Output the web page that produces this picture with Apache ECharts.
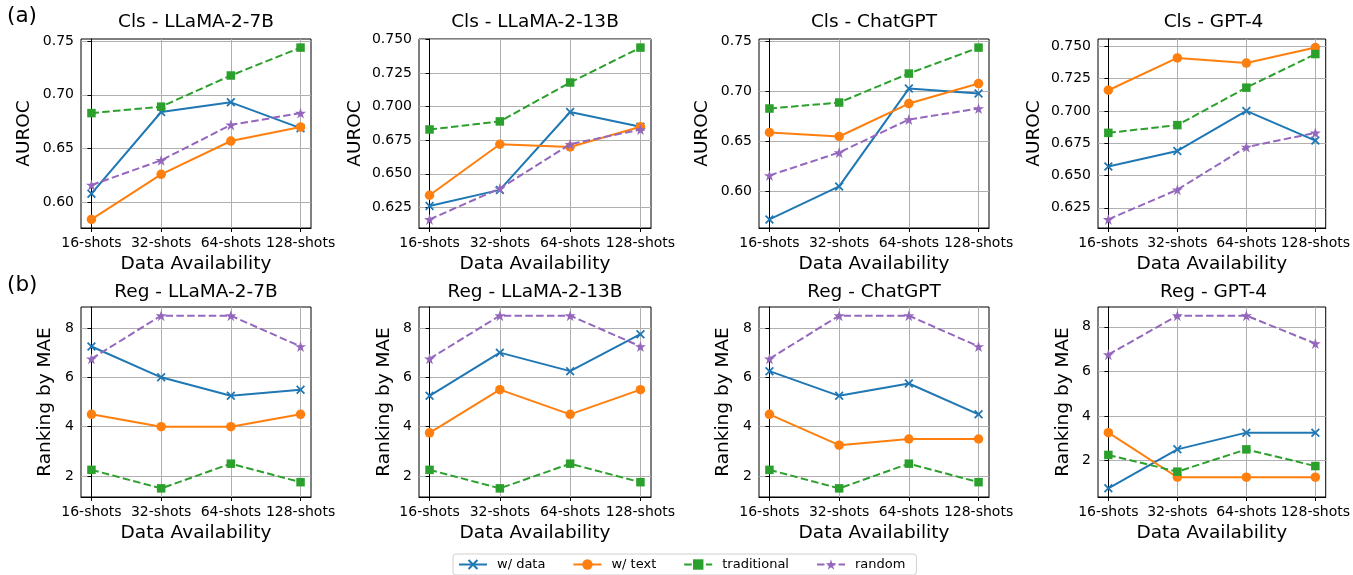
<!DOCTYPE html>
<html><head><meta charset="utf-8">
<script src="https://cdn.jsdelivr.net/npm/echarts@6/dist/echarts.min.js"></script>
<style>html,body{margin:0;padding:0;background:#fff}#c{width:1353px;height:575px}</style>
</head><body><div id="c"></div>
<script>
// ---------------- data ----------------
const categories = ['16-shots', '32-shots', '64-shots', '128-shots'];
const seriesNames = ['w/ data', 'w/ text', 'traditional', 'random'];

const cls_traditional = [0.683, 0.689, 0.718, 0.744];
const cls_random = [0.616, 0.639, 0.672, 0.683];
const cls_llama7b_data = [0.608, 0.684, 0.693, 0.669];
const cls_llama7b_text = [0.584, 0.626, 0.657, 0.670];
const cls_llama13b_data = [0.626, 0.638, 0.696, 0.685];
const cls_llama13b_text = [0.634, 0.672, 0.670, 0.685];
const cls_chatgpt_data = [0.572, 0.605, 0.703, 0.698];
const cls_chatgpt_text = [0.659, 0.655, 0.688, 0.708];
const cls_gpt4_data = [0.657, 0.669, 0.700, 0.677];
const cls_gpt4_text = [0.716, 0.741, 0.737, 0.749];

const reg_traditional = [2.25, 1.5, 2.5, 1.75];
const reg_random = [6.75, 8.5, 8.5, 7.25];
const reg_llama7b_data = [7.25, 6.0, 5.25, 5.5];
const reg_llama7b_text = [4.5, 4.0, 4.0, 4.5];
const reg_llama13b_data = [5.25, 7.0, 6.25, 7.75];
const reg_llama13b_text = [3.75, 5.5, 4.5, 5.5];
const reg_chatgpt_data = [6.25, 5.25, 5.75, 4.5];
const reg_chatgpt_text = [4.5, 3.25, 3.5, 3.5];
const reg_gpt4_data = [0.75, 2.5, 3.25, 3.25];
const reg_gpt4_text = [3.25, 1.25, 1.25, 1.25];

const clsTicksA = [0.60, 0.65, 0.70, 0.75];
const clsTicksB = [0.625, 0.650, 0.675, 0.700, 0.725, 0.750];
const regTicks = [2, 4, 6, 8];

const panels = [
  {title: 'Cls - LLaMA-2-7B', yname: 'AUROC', s: [cls_llama7b_data, cls_llama7b_text, cls_traditional, cls_random], ticks: clsTicksA, dec: 2},
  {title: 'Cls - LLaMA-2-13B', yname: 'AUROC', s: [cls_llama13b_data, cls_llama13b_text, cls_traditional, cls_random], ticks: clsTicksB, dec: 3},
  {title: 'Cls - ChatGPT', yname: 'AUROC', s: [cls_chatgpt_data, cls_chatgpt_text, cls_traditional, cls_random], ticks: clsTicksA, dec: 2},
  {title: 'Cls - GPT-4', yname: 'AUROC', s: [cls_gpt4_data, cls_gpt4_text, cls_traditional, cls_random], ticks: clsTicksB, dec: 3},
  {title: 'Reg - LLaMA-2-7B', yname: 'Ranking by MAE', s: [reg_llama7b_data, reg_llama7b_text, reg_traditional, reg_random], ticks: regTicks, dec: 0},
  {title: 'Reg - LLaMA-2-13B', yname: 'Ranking by MAE', s: [reg_llama13b_data, reg_llama13b_text, reg_traditional, reg_random], ticks: regTicks, dec: 0},
  {title: 'Reg - ChatGPT', yname: 'Ranking by MAE', s: [reg_chatgpt_data, reg_chatgpt_text, reg_traditional, reg_random], ticks: regTicks, dec: 0},
  {title: 'Reg - GPT-4', yname: 'Ranking by MAE', s: [reg_gpt4_data, reg_gpt4_text, reg_traditional, reg_random], ticks: regTicks, dec: 0}
];

// ---------------- layout / style ----------------
const FONT = 'DejaVu Sans';
const colors = ['#1f77b4', '#ff7f0e', '#2ca02c', '#9467bd'];
const xMarkPath = 'path://M1.4,0 L5,3.6 L8.6,0 L10,1.4 L6.4,5 L10,8.6 L8.6,10 L5,6.4 L1.4,10 L0,8.6 L3.6,5 L0,1.4 Z';
const starPath = 'path://M5,0 L6.123,3.455 L9.755,3.455 L6.817,5.590 L7.939,9.045 L5,6.91 L2.061,9.045 L3.183,5.590 L0.245,3.455 L3.877,3.455 Z';
const symbols = [xMarkPath, 'circle', 'rect', starPath];
const symbolSizes = [9, 9.5, 8.5, 11];
const lineTypes = ['solid', 'solid', [7.5, 3.3], [7.5, 3.3]];
const colLefts = [81, 419, 759, 1098];
const colWidths = [230, 232, 230, 231];
const rowTops = [39, 307];
const rowHeights = [189, 190];
const yNameGaps = [47, 54, 47, 54, 26, 25, 26, 25];

const grids = [], xAxes = [], yAxes = [], series = [], graphics = [];
panels.forEach((p, i) => {
  const col = i % 4, row = Math.floor(i / 4);
  grids.push({left: colLefts[col], top: rowTops[row], width: colWidths[col], height: rowHeights[row],
    show: true, borderColor: '#000', borderWidth: 1, backgroundColor: 'transparent', containLabel: false});
  xAxes.push({
    type: 'value', gridIndex: i, min: -0.15, max: categories.length - 1 + 0.15,
    name: 'Data Availability', nameLocation: 'middle', nameGap: 27,
    nameTextStyle: {fontFamily: FONT, fontSize: 18.5, color: '#000'},
    axisLine: {show: true, lineStyle: {color: '#000', width: 1}},
    axisTick: {show: true, inside: false, length: 4, lineStyle: {color: '#000'}, customValues: categories.map((c, k) => k)},
    axisLabel: {show: true, margin: 8, fontFamily: FONT, fontSize: 14, color: '#000',
      customValues: categories.map((c, k) => k), formatter: v => categories[Math.round(v)]},
    splitLine: {show: true, lineStyle: {color: '#b0b0b0', width: 1}}
  });
  const all = [].concat(...p.s);
  const lo = Math.min(...all), hi = Math.max(...all), pad = (hi - lo) * 0.05;
  yAxes.push({
    type: 'value', gridIndex: i, min: lo - pad, max: hi + pad,
    name: p.yname, nameLocation: 'middle', nameGap: yNameGaps[i],
    nameTextStyle: {fontFamily: FONT, fontSize: 18.5, color: '#000'},
    axisLine: {show: true, lineStyle: {color: '#000', width: 1}},
    axisTick: {show: true, inside: false, length: 4, lineStyle: {color: '#000'}, customValues: p.ticks},
    axisLabel: {show: true, margin: 7, fontFamily: FONT, fontSize: 14, color: '#000',
      customValues: p.ticks, formatter: v => v.toFixed(p.dec)},
    splitLine: {show: true, lineStyle: {color: '#b0b0b0', width: 1}}
  });
  p.s.forEach((vals, j) => {
    series.push({
      name: seriesNames[j], type: 'line', xAxisIndex: i, yAxisIndex: i,
      data: vals.map((v, k) => [k, v]),
      symbol: symbols[j], symbolSize: symbolSizes[j], showAllSymbol: true,
      lineStyle: {color: colors[j], width: 2, type: lineTypes[j]},
      itemStyle: {color: colors[j]},
      emphasis: {disabled: true}, z: 2 + j
    });
  });
  graphics.push({type: 'text', x: colLefts[col] + colWidths[col] / 2, y: row === 0 ? 13 : 283,
    style: {text: p.title, fontFamily: FONT, fontSize: 18.5, fill: '#000', align: 'center', verticalAlign: 'top'}});
});
graphics.push({type: 'text', x: 7, y: 5, style: {text: '(a)', fontFamily: FONT, fontSize: 21.5, fill: '#000'}});
graphics.push({type: 'text', x: 7, y: 274, style: {text: '(b)', fontFamily: FONT, fontSize: 21.5, fill: '#000'}});

const chart = echarts.init(document.getElementById('c'), null, {renderer: 'canvas'});
chart.setOption({
  animation: false,
  backgroundColor: '#fff',
  grid: grids, xAxis: xAxes, yAxis: yAxes, series: series, graphic: graphics,
  legend: {
    data: seriesNames, left: 453, top: 554, orient: 'horizontal',
    itemWidth: 28, itemHeight: 13, itemGap: 27,
    padding: [4, 11, 4, 5],
    borderColor: '#d0d0d0', borderWidth: 1, borderRadius: 3,
    textStyle: {fontFamily: FONT, fontSize: 13, color: '#000', padding: [0, 0, 0, 5]}
  },
  tooltip: {show: false}
});
</script></body></html>
